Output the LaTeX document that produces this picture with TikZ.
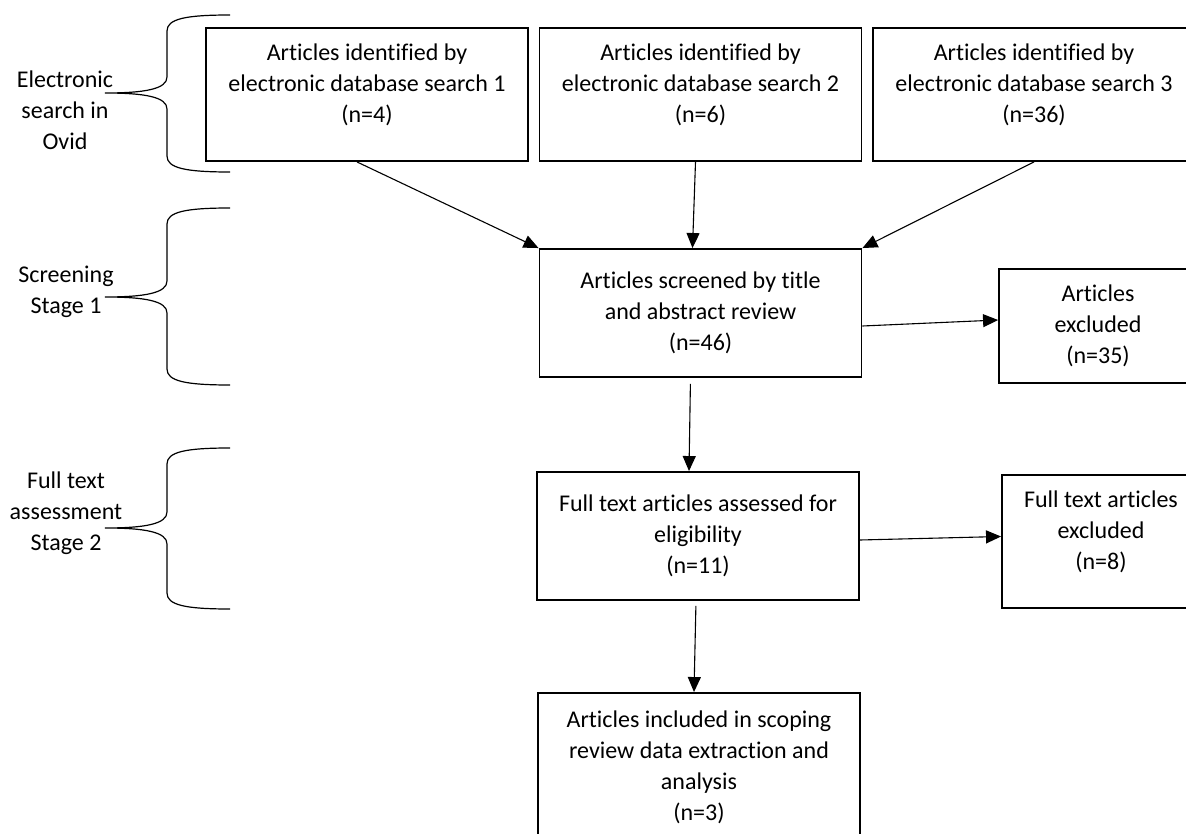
\documentclass[tikz,border=0pt]{standalone}
\usepackage{fontspec}
\setmainfont{Carlito}[Ligatures=NoCommon]
\usetikzlibrary{arrows.meta}

\tikzset{   boxstd/.style={draw,rectangle,line width=1.9pt,minimum width=322pt,minimum height=133pt,align=center,inner sep=0pt},
            boxside/.style={boxstd,minimum width=198pt},
            raised/.style={text depth=22pt},
            stagetext/.style={align=center,inner sep=0pt},
            arr/.style={-{Triangle[length=15pt,width=13pt]},line width=1.1pt},
            brc/.style={line width=1.2pt},
}
\newcommand{\stagebrace}[3]{% top, tip, bottom
    \draw[brc] (230,#1) .. controls (185,#1) and (167,#1+4) .. (167,#1+16) -- (167,#2-16)
        .. controls (167,#2-4) and (145,#2) .. (105,#2)
        .. controls (145,#2) and (167,#2+4) .. (167,#2+16) -- (167,#3-16)
        .. controls (167,#3-4) and (185,#3) .. (230,#3);}

\begin{document}
\begin{tikzpicture}[x=1pt,y=-1pt,font=\fontsize{24}{31}\selectfont]
    \useasboundingbox (0,0) rectangle (1186,834);
    \clip (0,0) rectangle (1186,834);

    \stagebrace{15}{93}{172}    % braces
    \stagebrace{208}{297}{385}
    \stagebrace{448}{528}{609}

    \node[stagetext] (lsearch) at (65,110) {Electronic\\search in\\Ovid}; % stage labels
    \node[stagetext] (lscreen) at (66,292) {Screening\\Stage 1};
    \node[stagetext] (lfull) at (66,513) {Full text\\assessment\\Stage 2};

    \node[boxstd,raised] (srch1) at (367,94.5) {Articles identified by\\electronic database search 1\\(n=4)};
    \node[boxstd,raised] (srch2) at (700.5,94.5) {Articles identified by\\electronic database search 2\\(n=6)};
    \node[boxstd,raised] (srch3) at (1034,94.5) {Articles identified by\\electronic database search 3\\(n=36)};

    \node[boxstd,minimum height=128pt] (screen) at (700.5,313) {Articles screened by title\\and abstract review\\(n=46)};
    \node[boxside,minimum height=114pt] (excl1) at (1098,326) {Articles\\excluded\\(n=35)};

    \node[boxstd,minimum height=128pt] (full) at (698,536) {Full text articles assessed for\\eligibility\\(n=11)};
    \node[boxside,raised] (excl2) at (1101,541.5) {Full text articles\\excluded\\(n=8)};

    \node[boxstd,minimum height=149pt] (incl) at (699,767.5) {Articles included in scoping\\review data extraction and\\analysis\\(n=3)};

    \draw[arr] ([xshift=-10pt]srch1.south) -- (screen.north west); % arrows
    \draw[arr] ([xshift=-5pt]srch2.south) -- ([xshift=-8pt]screen.north);
    \draw[arr] (srch3.south) -- (screen.north east);
    \draw[arr] ([yshift=-13pt]screen.east) -- ([yshift=6pt]excl1.west);
    \draw[arr,shorten <=6pt] ([xshift=-10pt]screen.south) -- ([xshift=-9pt]full.north);
    \draw[arr] ([yshift=-4pt]full.east) -- ([yshift=5pt]excl2.west);
    \draw[arr,shorten <=5pt] ([xshift=-2pt]full.south) -- ([xshift=-5pt]incl.north);
\end{tikzpicture}
\end{document}
